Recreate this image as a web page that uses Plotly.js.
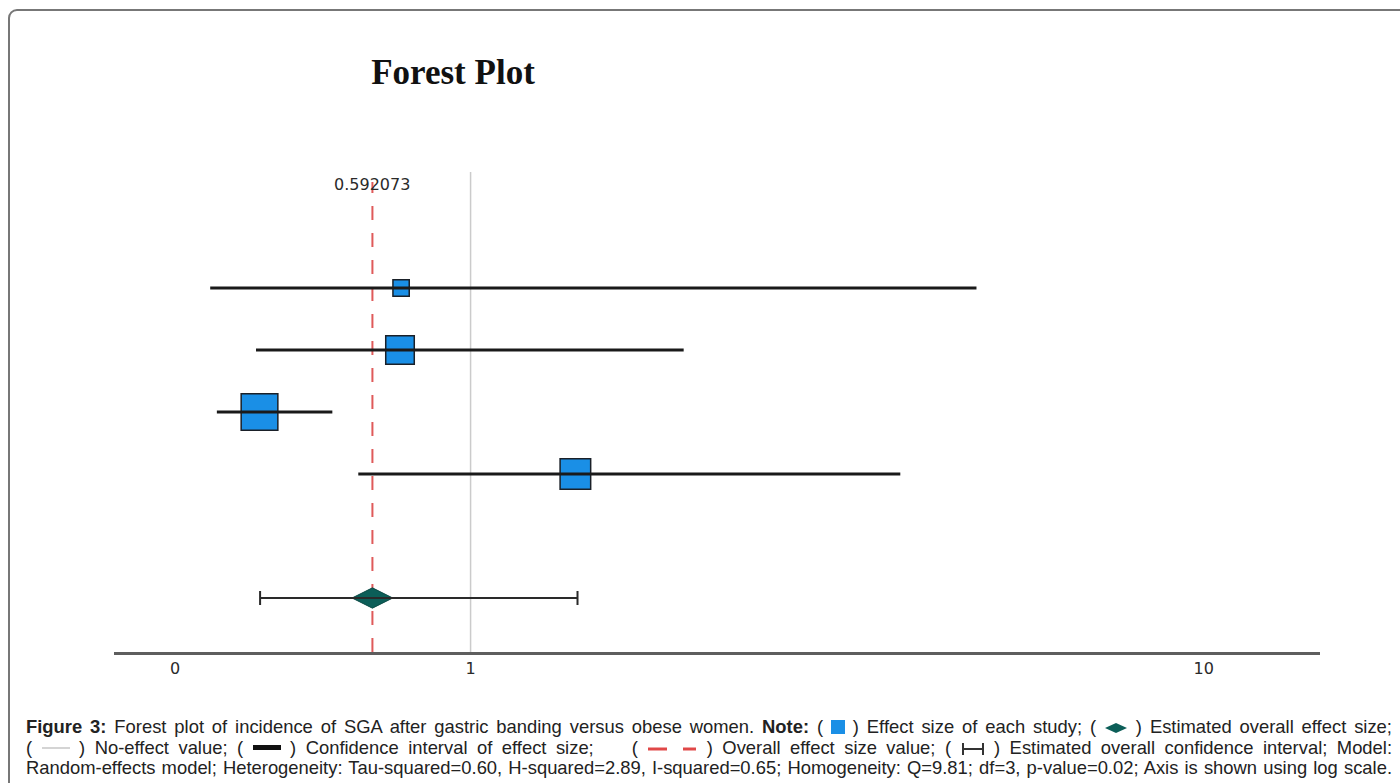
<!DOCTYPE html>
<html>
<head>
<meta charset="utf-8">
<script src="https://cdn.plot.ly/plotly-3.0.1.min.js"></script>
<style>
  html, body { margin: 0; padding: 0; background: #ffffff; width: 1400px; height: 783px; overflow: hidden; }
  #frame {
    position: absolute; left: 8px; top: 9px; width: 1420px; height: 820px;
    border: 2px solid #777777; border-radius: 9px; box-sizing: border-box;
    pointer-events: none; z-index: 5;
  }
  #chart { position: absolute; left: 0; top: 0; width: 1400px; height: 700px; }
  #caption {
    position: absolute; left: 26px; top: 717px; width: 1366px;
    font-family: "Liberation Sans", Arial, sans-serif; font-size: 18.4px;
    line-height: 20.5px; color: #222222;
  }
  #caption .ln { text-align: justify; text-align-last: justify; white-space: normal; }
  .ico { display: inline-block; vertical-align: middle; }
  .sq { width: 14px; height: 14px; background: #1a8fe6; vertical-align: -1px; }
  .grayln { width: 28px; height: 2px; background: #d4d4d4; vertical-align: 5px; }
  .blackln { width: 28px; height: 5px; background: #111111; vertical-align: 4px; }
</style>
</head>
<body>
<div id="chart"></div>
<div id="caption">
  <div class="ln"><b>Figure 3:</b> Forest plot of incidence of SGA after gastric banding versus obese women. <b>Note:</b> ( <span class="ico sq"></span> ) Effect size of each study; ( <svg class="ico" width="24" height="12" viewBox="0 0 24 12"><polygon points="1,6 12,1 23,6 12,11" fill="#0c5e58"/></svg> ) Estimated overall effect size;</div>
  <div class="ln">( <span class="ico grayln"></span> ) No-effect value; ( <span class="ico blackln"></span> ) Confidence interval of effect size;&nbsp;&nbsp;&nbsp; ( <svg class="ico" width="50" height="6" viewBox="0 0 50 6"><line x1="1" y1="3" x2="20" y2="3" stroke="#e04848" stroke-width="3"/><line x1="36" y1="3" x2="49" y2="3" stroke="#e04848" stroke-width="3"/></svg> ) Overall effect size value; ( <svg class="ico" width="24" height="14" viewBox="0 0 24 14"><line x1="2" y1="1" x2="2" y2="13" stroke="#333" stroke-width="2"/><line x1="22" y1="1" x2="22" y2="13" stroke="#333" stroke-width="2"/><line x1="2" y1="7" x2="22" y2="7" stroke="#333" stroke-width="2"/></svg> ) Estimated overall confidence interval; Model:</div>
  <div class="ln">Random-effects model; Heterogeneity: Tau-squared=0.60, H-squared=2.89, I-squared=0.65; Homogeneity: Q=9.81; df=3, p-value=0.02; Axis is shown using log scale.</div>
</div>
<div id="frame"></div>
<script>
// Individual study estimates (odds ratios) with 95% confidence limits
const studyEffect = [0.69, 0.686, 0.324, 1.75];
const studyLow    = [0.249, 0.318, 0.258, 0.549];
const studyHigh   = [14.9, 3.12, 0.478, 9.92];
// Relative study weights (%), used for the marker area
const studyWeight = [7.9, 24.2, 40.0, 27.8];

// Pooled random-effects estimate
const overallEffect = 0.592073;
const overallLow    = 0.325;
const overallHigh   = 1.77;

// Axis tick positions and their printed labels
const tickVals = [0.2064, 1, 50.15];
const tickText = ['0', '1', '10'];

// Row layout: one row per study, pooled row two steps further down
const studyRows = studyEffect.map((_, i) => i);
const overallRow = studyEffect.length + 1;

const squareSize = studyWeight.map(w => 5.8 * Math.sqrt(w));

const traces = [
  {
    // study effect squares
    type: 'scatter', mode: 'markers',
    x: studyEffect, y: studyRows,
    marker: { symbol: 'square', size: squareSize, color: '#1a8fe6', opacity: 1,
              line: { color: '#1a2028', width: 1.5 } },
    hoverinfo: 'x', showlegend: false
  },
  {
    // study confidence intervals
    type: 'scatter', mode: 'markers',
    x: studyEffect, y: studyRows,
    marker: { size: 1, color: 'rgba(0,0,0,0)' },
    error_x: {
      type: 'data', symmetric: false,
      array: studyHigh.map((h, i) => h - studyEffect[i]),
      arrayminus: studyLow.map((l, i) => studyEffect[i] - l),
      color: '#1a1a1a', thickness: 3, width: 0
    },
    hoverinfo: 'skip', showlegend: false
  },
  {
    // pooled estimate diamond
    type: 'scatter', mode: 'markers',
    x: [overallEffect], y: [overallRow],
    marker: { symbol: 'diamond-wide', size: 29, color: '#0c5e58', opacity: 1,
              line: { color: '#0a4a45', width: 1 } },
    hoverinfo: 'x', showlegend: false
  },
  {
    // pooled confidence interval with end caps
    type: 'scatter', mode: 'markers',
    x: [overallEffect], y: [overallRow],
    marker: { size: 1, color: 'rgba(0,0,0,0)' },
    error_x: {
      type: 'data', symmetric: false,
      array: [overallHigh - overallEffect],
      arrayminus: [overallEffect - overallLow],
      color: '#2a2a2a', thickness: 2, width: 7
    },
    hoverinfo: 'skip', showlegend: false
  }
];

const layout = {
  width: 1400, height: 700,
  margin: { l: 114, r: 80, t: 172, b: 48 },
  paper_bgcolor: '#ffffff', plot_bgcolor: '#ffffff',
  title: {
    text: '<b>Forest Plot</b>',
    font: { family: 'Liberation Serif, Times New Roman, serif', size: 35, color: '#111111' },
    xref: 'container', x: 453 / 1400, xanchor: 'center',
    yref: 'container', y: 1 - 72 / 700, yanchor: 'middle'
  },
  xaxis: {
    type: 'log',
    range: [-0.8269, 1.9698],
    showgrid: false, zeroline: false,
    showline: true, linecolor: '#5e5e5e', linewidth: 2.5,
    ticks: '', tickmode: 'array', tickvals: tickVals, ticktext: tickText,
    tickfont: { family: 'DejaVu Sans, sans-serif', size: 16, color: '#2a2a2a' },
    fixedrange: true
  },
  yaxis: {
    range: [5.871, -1.871],
    showgrid: false, zeroline: false, showline: false,
    showticklabels: false, ticks: '', fixedrange: true
  },
  shapes: [
    {
      // no-effect reference line
      type: 'line', layer: 'below',
      xref: 'x', yref: 'paper', x0: 1, x1: 1, y0: 0, y1: 1,
      line: { color: '#cbcbcb', width: 1.5 }
    },
    {
      // pooled effect reference line
      type: 'line', layer: 'below',
      xref: 'x', yref: 'paper', x0: overallEffect, x1: overallEffect, y0: 0, y1: 0.979,
      line: { color: '#df5a5a', width: 2, dash: '14px,13px' }
    }
  ],
  annotations: [
    {
      xref: 'x', yref: 'paper',
      x: Math.log10(overallEffect), y: 0.973,
      text: String(overallEffect), showarrow: false,
      xanchor: 'center', yanchor: 'middle',
      font: { family: 'DejaVu Sans, sans-serif', size: 16, color: '#2a2a2a' }
    }
  ]
};

Plotly.newPlot('chart', traces, layout, { displayModeBar: false, staticPlot: true });
</script>
</body>
</html>
